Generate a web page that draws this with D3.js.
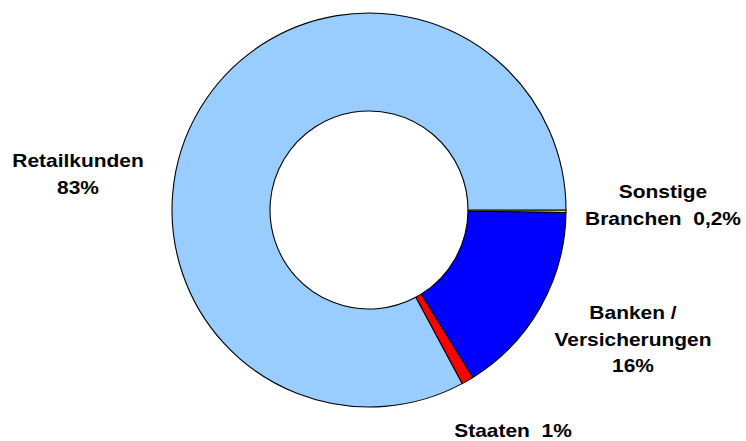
<!DOCTYPE html>
<html>
<head>
<meta charset="utf-8">
<script src="https://cdn.jsdelivr.net/npm/d3@7"></script>
<style>
  body { margin: 0; background: #fff; }
  text { font-family: "Liberation Sans", Arial, sans-serif; font-weight: bold; fill: #000; }
</style>
</head>
<body>
<div id="chart"></div>
<script>
// slices, clockwise from 3 o'clock
var categories = ["Sonstige Branchen", "Banken / Versicherungen", "Staaten", "Retailkunden"];
var values = [0.2, 16, 1, 83];
var labelLines = [
  ["Sonstige", "Branchen\u00a0\u00a00,2%"],
  ["Banken /", "Versicherungen", "16%"],
  ["Staaten\u00a0\u00a01%"],
  ["Retailkunden", "83%"]
];
var colors = ["#ffff00", "#0000ff", "#ff0000", "#99ccff"];

var width = 746,
    height = 441,
    cx = 369,
    cy = 210,
    outerR = 197,
    innerR = 99;

// where each label block sits (centre x, first baseline y)
var labelPos = [
  [663, 198],
  [633, 319],
  [513, 437],
  [78, 167]
];

var svg = d3.select("#chart")
    .append("svg")
    .attr("width", width)
    .attr("height", height);

var pie = d3.pie()
    .sort(null)
    .value(d => d)
    .startAngle(Math.PI / 2)
    .endAngle(Math.PI / 2 + 2 * Math.PI);

var arc = d3.arc()
    .innerRadius(innerR)
    .outerRadius(outerR);

var color = d3.scaleOrdinal()
    .domain(categories)
    .range(colors);

var slices = svg.append("g")
    .attr("transform", "translate(" + cx + "," + cy + ")");

slices.selectAll("path")
    .data(pie(values))
    .enter()
    .append("path")
    .attr("d", arc)
    .style("fill", (d, i) => color(categories[i]))
    .style("stroke", "#000")
    .style("stroke-width", 1.1)
    .style("stroke-linejoin", "round");

// labels (the font in the original is a bit wider than Arial)
var label = svg.append("g")
    .selectAll("g")
    .data(categories)
    .enter()
    .append("g")
    .attr("transform", (d, i) => "translate(" + labelPos[i][0] + "," + labelPos[i][1] + ") scale(1.12,1)");

label.each(function(d, i) {
  var t = d3.select(this).append("text")
      .attr("text-anchor", "middle")
      .style("font-size", "18.7px");
  labelLines[i].forEach(function(line, j) {
    t.append("tspan")
        .attr("x", 0)
        .attr("y", j * 26.7)
        .text(line);
  });
});
</script>
</body>
</html>
